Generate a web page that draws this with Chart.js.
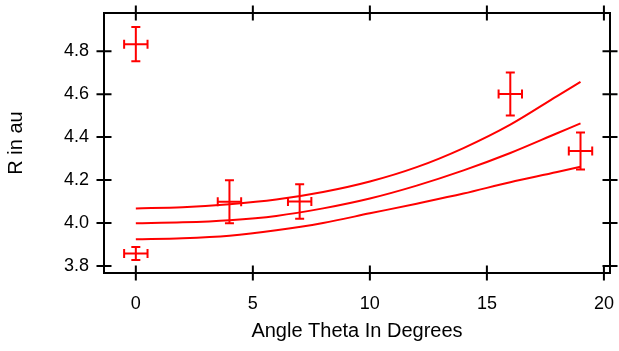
<!DOCTYPE html>
<html>
<head>
<meta charset="utf-8">
<script src="https://cdn.jsdelivr.net/npm/chart.js@4.4.1/dist/chart.umd.min.js"></script>
<style>
html,body{margin:0;padding:0;background:#fff}
#wrap{width:619px;height:351px}
</style>
</head>
<body>
<div id="wrap"><canvas id="chart"></canvas></div>
<script>
// measured points and their error bars
const pointX = [0, 0, 4, 7, 16, 19]
const pointY = [4.833, 3.858, 4.099, 4.10, 4.601, 4.335]
const errX = [0.5, 0.5, 0.5, 0.5, 0.5, 0.5]
const errY = [0.08, 0.03, 0.10, 0.08, 0.10, 0.086]

// the three fitted curves
const curveX = [0, 2, 4, 6, 8, 10, 12, 14, 16, 18, 19]
const upperR = [4.068, 4.073, 4.087, 4.109, 4.144, 4.193, 4.26, 4.349, 4.458, 4.591, 4.657]
const middleR = [3.999, 4.003, 4.013, 4.033, 4.068, 4.114, 4.174, 4.245, 4.326, 4.418, 4.464]
const lowerR = [3.924, 3.929, 3.941, 3.966, 4.0, 4.045, 4.09, 4.137, 4.19, 4.237, 4.262]

const xTicks = [0, 5, 10, 15, 20]
const yTicks = [3.8, 4.0, 4.2, 4.4, 4.6, 4.8]

const RED = '#ff0000'
const FONT = "'Liberation Sans', Arial, sans-serif"

function curve(vals){
    return {
        type: 'line',
        data: curveX.map((x, i) => ({x: x, y: vals[i]})),
        borderColor: RED,
        borderWidth: 2,
        pointRadius: 0,
        cubicInterpolationMode: 'monotone',
        fill: false
    }
}

// error bars with caps
const errorBars = {
    id: 'errorBars',
    afterDatasetsDraw(chart){
        const ctx = chart.ctx
        const xs = chart.scales.x, ys = chart.scales.y
        const cap = 4.5
        ctx.save()
        ctx.strokeStyle = RED
        ctx.lineWidth = 2
        pointX.forEach((x, i) => {
            const px = xs.getPixelForValue(x)
            const py = ys.getPixelForValue(pointY[i])
            const x0 = xs.getPixelForValue(x - errX[i]), x1 = xs.getPixelForValue(x + errX[i])
            const y0 = ys.getPixelForValue(pointY[i] - errY[i]), y1 = ys.getPixelForValue(pointY[i] + errY[i])
            ctx.beginPath()
            ctx.moveTo(x0, py); ctx.lineTo(x1, py)
            ctx.moveTo(x0, py - cap); ctx.lineTo(x0, py + cap)
            ctx.moveTo(x1, py - cap); ctx.lineTo(x1, py + cap)
            ctx.moveTo(px, y0); ctx.lineTo(px, y1)
            ctx.moveTo(px - cap, y0); ctx.lineTo(px + cap, y0)
            ctx.moveTo(px - cap, y1); ctx.lineTo(px + cap, y1)
            ctx.stroke()
        })
        ctx.restore()
    }
}

// box frame with ticks crossing every side
const frame = {
    id: 'frame',
    afterDraw(chart){
        const ctx = chart.ctx
        const a = chart.chartArea
        const xs = chart.scales.x, ys = chart.scales.y
        const t = 7.5
        ctx.save()
        ctx.strokeStyle = '#000'
        ctx.lineWidth = 2
        ctx.strokeRect(a.left, a.top, a.right - a.left, a.bottom - a.top)
        ctx.beginPath()
        xTicks.forEach(v => {
            const p = xs.getPixelForValue(v)
            ctx.moveTo(p, a.bottom - t); ctx.lineTo(p, a.bottom + t)
            ctx.moveTo(p, a.top - t); ctx.lineTo(p, a.top + t)
        })
        yTicks.forEach(v => {
            const p = ys.getPixelForValue(v)
            ctx.moveTo(a.left - t, p); ctx.lineTo(a.left + t, p)
            ctx.moveTo(a.right - t, p); ctx.lineTo(a.right + t, p)
        })
        ctx.stroke()
        ctx.restore()
    }
}

new Chart(document.getElementById('chart'), {
    type: 'scatter',
    data: {
        datasets: [
            curve(upperR),
            curve(middleR),
            curve(lowerR),
            {
                type: 'scatter',
                data: pointX.map((x, i) => ({x: x, y: pointY[i]})),
                pointRadius: 0,
                borderColor: RED,
                backgroundColor: RED
            }
        ]
    },
    options: {
        responsive: true,
        maintainAspectRatio: false,
        animation: false,
        layout: {padding: {top: 13, right: 9, left: 0, bottom: 0}},
        plugins: {legend: {display: false}, tooltip: {enabled: false}},
        scales: {
            x: {
                type: 'linear',
                min: -1.36,
                max: 20.26,
                grid: {display: false, drawTicks: false},
                border: {display: false},
                afterBuildTicks: s => { s.ticks = xTicks.map(v => ({value: v})) },
                afterFit: s => { s.height = 78; s.paddingLeft = 0; s.paddingRight = 0 },
                ticks: {
                    color: '#000',
                    padding: 20,
                    maxRotation: 0,
                    font: {family: FONT, size: 18},
                    callback: v => String(v)
                },
                title: {
                    display: true,
                    text: 'Angle Theta In Degrees',
                    color: '#000',
                    font: {family: FONT, size: 20},
                    padding: {top: 0, bottom: 8}
                }
            },
            y: {
                min: 3.767,
                max: 4.978,
                grid: {display: false, drawTicks: false},
                border: {display: false},
                afterBuildTicks: s => { s.ticks = yTicks.map(v => ({value: v})) },
                afterFit: s => { s.width = 104; s.paddingTop = 0; s.paddingBottom = 0 },
                ticks: {
                    color: '#000',
                    padding: 15,
                    font: {family: FONT, size: 18},
                    callback: v => v.toFixed(1)
                },
                title: {
                    display: true,
                    text: 'R in au',
                    color: '#000',
                    font: {family: FONT, size: 20},
                    padding: {top: 4, bottom: 0}
                }
            }
        }
    },
    plugins: [errorBars, frame]
})
</script>
</body>
</html>
